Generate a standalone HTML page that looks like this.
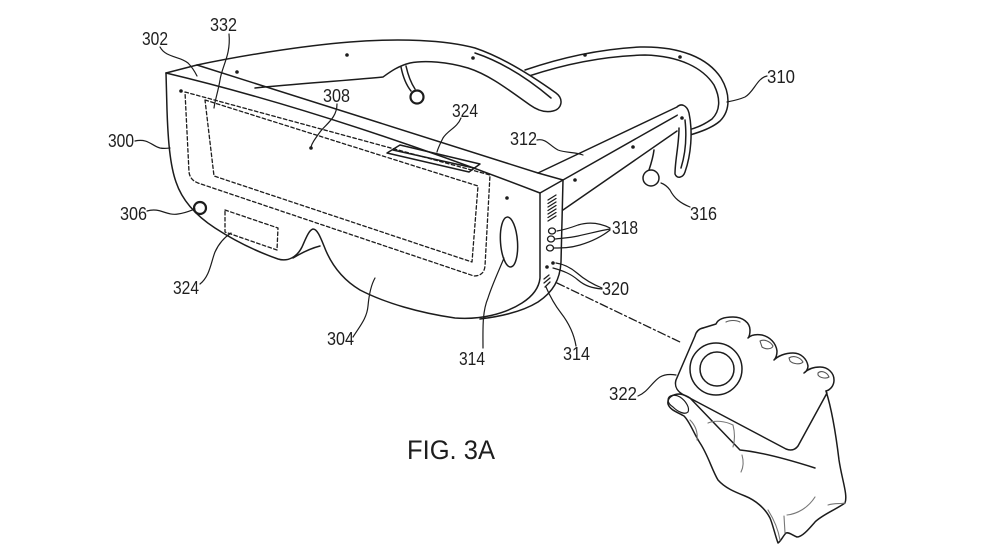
<!DOCTYPE html>
<html>
<head>
<meta charset="utf-8">
<style>
html,body{margin:0;padding:0;background:#fff;}
svg{display:block;}
text{font-family:"Liberation Sans",Arial,sans-serif;fill:#1e1e1e;}
</style>
</head>
<body>
<svg width="990" height="556" viewBox="0 0 990 556" xmlns="http://www.w3.org/2000/svg">
<rect width="990" height="556" fill="#fff"/>
<g fill="none" stroke="#1c1c1c" stroke-width="1.5" stroke-linecap="round" stroke-linejoin="round">
  <!-- back strap 310 -->
  <path d="M525,70 C560,58 600,49 640,47 C680,46 708,58 721,78 C730,93 731,110 720,121 C712,128 700,132 690,135"/>
  <path d="M529,76 C562,65 602,56 645,55 C680,56 703,68 714,85 C721,99 720,111 712,119 C705,124 697,128 688,130"/>
  <!-- front strap -->
  <path d="M197,65 C240,56 300,46 350,42 C400,38 445,40 475,48 C505,58 535,78 556,93 C564,99 562,109 553,111 C545,113 537,110 530,105 C510,91 490,75 468,68 C448,62 425,60 410,63 C398,66 390,72 383,77 C340,81 295,84 255,88" fill="#fff"/>
  <path d="M475,53 C505,63 532,82 551,98"/>
  <!-- earpiece top -->
  <path d="M401,67 C403,77 407,86 411,91"/>
  <path d="M406,66 C408,75 411,83 415,89"/>
  <circle cx="417" cy="97" r="6.5" stroke-width="2.2"/>
  <!-- body front outline -->
  <path d="M166,73 L167,110 C168,140 170,165 176,182 C182,200 195,215 215,228 C235,241 258,252 278,259 C288,262 297,257 302,247 C306,238 309,230 313,229 C317,229 320,236 324,246 C330,262 340,278 360,290 C385,303 420,313 455,318 C480,320 505,314 522,303 C533,296 539,288 540,278 L540,193"/>
  <path d="M293,258 C303,252 312,248 320,246"/>
  <!-- top face -->
  <path d="M166,73 Q330,112 540,193"/>
  <path d="M166,73 L197,65"/>
  <path d="M197,65 L538,173 L563,180 L540,193"/>
  <!-- side face -->
  <path d="M563,180 L561,262 C560,280 553,292 538,302 C525,310 505,316 480,319"/>
  <!-- arm 312 -->
  <path d="M538,173 L677,107"/>
  <path d="M563,180 L683,112"/>
  <path d="M563,210 L677,131"/>
  <path d="M677,107 C681,103 687,105 689,113 C693,132 691,155 685,172 C683,178 677,179 675,174 C675,160 679,145 679,128" fill="#fff"/>
  <path d="M685,120 C687,138 685,155 681,168"/>
  <!-- earpiece 316 -->
  <path d="M654,150 C653,158 651,164 649,170"/>
  <circle cx="651" cy="178" r="8"/>
  <!-- 324 top sensor -->
  <path d="M387,153 L400,145 L480,164 L469,172 Z"/>
  <path d="M393,150 L474,168"/>
  <!-- 306 -->
  <circle cx="200" cy="208" r="6" stroke-width="2.2"/>
  <!-- 314 slot -->
  <ellipse cx="509" cy="242" rx="8.5" ry="25" transform="rotate(-4 509 242)"/>
  <!-- side details -->
  <g stroke-width="1.3">
    <path d="M548,200 L556,195 M548,203.5 L556,198.5 M548,207 L556,202 M548,210.5 L556,205.5 M548,214 L556,209 M548,217.5 L556,212.5 M548,221 L556,216"/>
    <ellipse cx="552" cy="231" rx="3.5" ry="3"/>
    <ellipse cx="551" cy="239" rx="3.5" ry="3"/>
    <ellipse cx="550" cy="248" rx="3.5" ry="3"/>
    <path d="M544,279 L549,275 M544,283 L550,278 M545,287 L550,282"/>
  </g>
  <!-- dashed 332 / display -->
  <g stroke-dasharray="3.5,2.5" stroke-width="1.3">
    <path d="M185,92 L490,175 L485,266 Q484,276 474,276 L198,183 Q190,180 189,172 Z"/>
    <path d="M205,100 L478,186 L472,262 L214,176 Z"/>
    <path d="M225,210 L278,228 L277,250 L225,232 Z"/>
  </g>
  <!-- dash-dot line -->
  <path d="M557,283 L682,343" stroke-dasharray="8,3,2,3" stroke-width="1.3"/>
  <!-- remote 322 -->
  <path d="M703,328 C698,329 696,332 695,336 L676,380 C674,387 678,392 684,395 L786,449 C791,451 795,450 798,446 L827,393"/>
  <circle cx="716" cy="369" r="26"/>
  <circle cx="717" cy="369" r="17"/>
  <!-- fingers -->
  <path d="M703,328 L716,324 C718,319 724,317 733,317 C743,317 750,323 750,330 C750,334 749,337 748,338 C751,335 756,334 762,335 C770,337 776,343 777,351 C777,355 776,358 774,360 C778,356 785,353 793,353 C801,353 807,359 808,366 C808,369 806,372 804,373 C808,369 814,367 820,367 C828,367 834,373 834,380 C834,386 830,390 826,391"/>
  <g stroke-width="1.1" stroke="#555">
    <path d="M726,322 C730,320 736,320 740,322"/>
    <path d="M760,341 C764,339 770,341 773,346 C772,349 766,350 762,347 Z"/>
    <path d="M789,358 C793,355 800,357 803,362 C800,365 793,364 790,361 Z"/>
    <path d="M818,373 C821,370 827,372 829,377 C826,379 820,378 818,375 Z"/>
  </g>
  <!-- hand -->
  <path d="M826,391 C832,410 836,435 839,460 C842,480 848,495 845,503 C835,510 822,515 815,522 C808,530 802,537 797,537 C792,535 789,532 786,533 C783,536 781,541 778,543 C775,535 773,525 770,518 C765,508 755,500 745,496 C735,492 725,488 718,480 C712,470 708,455 700,443 C693,432 690,422 684,416 C677,412 670,410 668,404 C667,398 672,394 680,394 C685,395 687,396 690,398 L740,450 C760,452 790,460 815,468"/>
  <path d="M668,400 C668,395 675,394 680,397 C686,401 690,408 688,412 C685,415 678,412 673,407 C670,405 668,403 668,400 Z" stroke-width="1.2"/>
  <g stroke="#777" stroke-width="1.1">
    <path d="M690,420 C695,425 698,432 697,440"/>
    <path d="M708,423 C715,420 725,421 733,425"/>
    <path d="M733,425 C735,433 735,440 733,447"/>
    <path d="M742,455 C744,462 743,468 741,472"/>
    <path d="M815,497 C808,508 797,514 787,515"/>
    <path d="M768,510 C773,518 778,528 780,540"/>
    <path d="M784,516 L785,533"/>
    <path d="M828,505 C834,503 840,504 845,503"/>
  </g>
  <!-- leaders -->
  <g stroke-width="1.2">
    <path d="M160,47 C166,58 180,56 188,63 C193,68 195,72 197,76"/>
    <path d="M229,34 C231,55 222,66 220,80 C218,92 215,100 214,108"/>
    <path d="M135,141 C148,138 152,146 160,148 C165,149 168,148 170,148"/>
    <path d="M337,104 C337,118 326,124 320,132 C315,139 312,143 311,147"/>
    <path d="M461,118 C457,128 448,130 443,138 C440,144 438,148 437,152"/>
    <path d="M537,140 C546,138 550,146 558,150 C566,153 576,152 583,155"/>
    <path d="M767,76 C757,78 754,92 745,97 C738,100 732,101 727,102"/>
    <path d="M690,207 C680,203 674,198 670,190 C667,186 664,184 661,183"/>
    <path d="M147,211 C160,207 166,216 178,214 C186,213 192,210 195,209"/>
    <path d="M200,284 C210,276 211,262 215,252 C219,243 225,237 231,233"/>
    <path d="M353,337 C360,326 367,318 368,306 C369,295 371,285 375,278"/>
    <path d="M483,348 C483,330 482,312 488,298 C492,285 500,268 504,258"/>
    <path d="M576,346 C574,334 568,322 561,313 C554,304 549,294 546,287"/>
    <path d="M638,396 C648,392 652,382 660,377 C665,374 670,374 676,375"/>
    <path d="M610,228 C598,222 588,222 578,225 C570,228 563,230 557,231"/>
    <path d="M610,229 C598,231 588,234 578,236 C569,238 563,238 555,239"/>
    <path d="M610,230 C600,238 590,242 580,245 C570,248 562,248 554,248"/>
    <path d="M602,288 C592,284 585,280 577,273 C570,267 563,264 556,263"/>
    <path d="M602,289 C592,288 585,286 578,280 C571,274 564,271 553,268"/>
  </g>
</g>
<!-- dots -->
<g fill="#1c1c1c">
  <circle cx="237" cy="72" r="1.8"/>
  <circle cx="347" cy="55" r="1.8"/>
  <circle cx="473" cy="58" r="1.8"/>
  <circle cx="585" cy="55" r="1.8"/>
  <circle cx="680" cy="57" r="1.8"/>
  <circle cx="682" cy="118" r="1.8"/>
  <circle cx="633" cy="147" r="1.8"/>
  <circle cx="575" cy="180" r="1.8"/>
  <circle cx="507" cy="198" r="1.8"/>
  <circle cx="311" cy="148" r="1.8"/>
  <circle cx="181" cy="91" r="1.8"/>
  <circle cx="547" cy="267" r="1.8"/>
  <circle cx="553" cy="263" r="1.8"/>
</g>
<!-- labels -->
<g font-size="18">
  <text x="142" y="45" textLength="26" lengthAdjust="spacingAndGlyphs">302</text>
  <text x="210" y="31" textLength="27" lengthAdjust="spacingAndGlyphs">332</text>
  <text x="108" y="147" textLength="26" lengthAdjust="spacingAndGlyphs">300</text>
  <text x="323" y="102" textLength="27" lengthAdjust="spacingAndGlyphs">308</text>
  <text x="452" y="117" textLength="26" lengthAdjust="spacingAndGlyphs">324</text>
  <text x="510" y="145" textLength="27" lengthAdjust="spacingAndGlyphs">312</text>
  <text x="767" y="83" textLength="28" lengthAdjust="spacingAndGlyphs">310</text>
  <text x="690" y="220" textLength="27" lengthAdjust="spacingAndGlyphs">316</text>
  <text x="120" y="220" textLength="27" lengthAdjust="spacingAndGlyphs">306</text>
  <text x="612" y="234" textLength="26" lengthAdjust="spacingAndGlyphs">318</text>
  <text x="602" y="295" textLength="27" lengthAdjust="spacingAndGlyphs">320</text>
  <text x="173" y="294" textLength="26" lengthAdjust="spacingAndGlyphs">324</text>
  <text x="327" y="345" textLength="27" lengthAdjust="spacingAndGlyphs">304</text>
  <text x="459" y="365" textLength="26" lengthAdjust="spacingAndGlyphs">314</text>
  <text x="563" y="360" textLength="27" lengthAdjust="spacingAndGlyphs">314</text>
  <text x="609" y="400" textLength="28" lengthAdjust="spacingAndGlyphs">322</text>
</g>
<text x="407" y="459" font-size="27" textLength="88" lengthAdjust="spacingAndGlyphs">FIG. 3A</text>
</svg>
</body>
</html>
